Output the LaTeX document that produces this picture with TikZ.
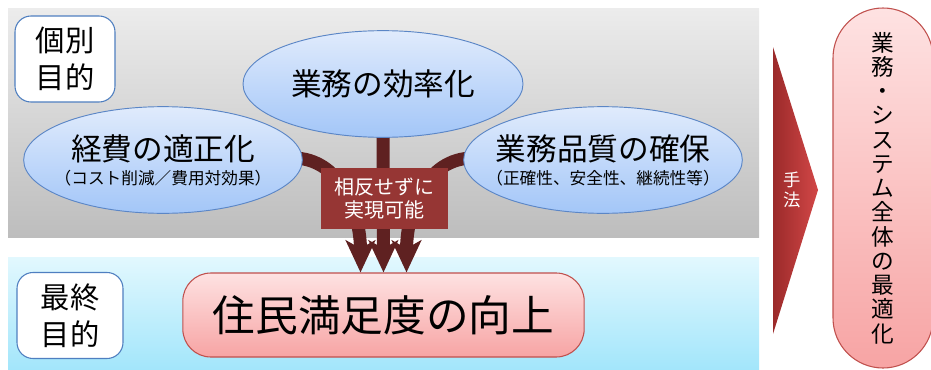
\documentclass[tikz,border=0pt]{standalone}
\usepackage{fontspec}
\setmainfont{Noto Sans CJK JP}
\usetikzlibrary{shapes.geometric, positioning, arrows.meta, calc}

\definecolor{graytop}{HTML}{ECECEC}
\definecolor{graybottom}{HTML}{BDBDBD}
\definecolor{bluetop}{HTML}{E2F8FE}
\definecolor{bluebottom}{HTML}{A3E6FB}
\definecolor{tagline}{HTML}{4F7FC0}
\definecolor{aimline}{HTML}{5B86C6}
\definecolor{aimtop}{HTML}{E0EBFC}
\definecolor{aimbottom}{HTML}{A3C6F8}
\definecolor{jointred}{HTML}{963634}
\definecolor{branchred}{HTML}{5F2121}
\definecolor{goalline}{HTML}{C0504D}
\definecolor{goaltop}{HTML}{FEE2E2}
\definecolor{goalbottom}{HTML}{F7A4A4}
\definecolor{chevleft}{HTML}{9B2A2A}
\definecolor{chevright}{HTML}{D24747}

\pgfdeclarelayer{back}
\pgfsetlayers{back,main}

% text lines that must not widen the ellipse
\newcommand{\aimline}[1]{\makebox[0pt]{#1}}
\newcommand{\subnote}[1]{\makebox[0pt]{\fontsize{12.5}{14}\selectfont #1}}

\begin{document}
\begin{tikzpicture}[
    x=0.75pt, y=0.75pt,
    % Define node styles
    tag/.style={
        rectangle,
        rounded corners=12pt,
        draw=tagline,
        line width=0.8pt,
        fill=white,
        minimum width=75pt,
        minimum height=64.5pt,
        align=center,
        font=\fontsize{22}{28}\selectfont
    },
    aim/.style={
        ellipse,
        draw=aimline,
        line width=0.7pt,
        top color=aimtop,
        bottom color=aimbottom,
        minimum width=209pt,
        minimum height=80pt,
        inner sep=0pt,
        align=center,
        font=\fontsize{23}{28}\selectfont
    },
    joint/.style={
        rectangle,
        fill=jointred,
        text=white,
        minimum width=95pt,
        minimum height=46pt,
        align=center,
        font=\fontsize{15}{17}\selectfont
    },
    goal/.style={
        rectangle,
        rounded corners=21pt,
        draw=goalline,
        line width=0.8pt,
        top color=goaltop,
        bottom color=goalbottom,
        minimum width=301pt,
        minimum height=63pt,
        font=\fontsize{32}{36}\selectfont
    },
    whole/.style={
        rectangle,
        rounded corners=37.5pt,
        draw=goalline,
        line width=0.8pt,
        top color=goaltop,
        bottom color=goalbottom,
        minimum width=75pt,
        minimum height=270pt,
        align=center,
        font=\fontsize{17}{18.2}\selectfont
    },
    branch/.style={
        draw=branchred,
        line width=9.75pt,
        -{Stealth[length=24pt, width=22pt, inset=6pt]}
    }
]
    \useasboundingbox (0,0) rectangle (931,369);

    % Background panels
    \begin{pgfonlayer}{back}
        \shade[top color=graytop, bottom color=graybottom] (8,132) rectangle (759,361);
        \shade[top color=bluetop, bottom color=bluebottom] (8,0) rectangle (759,112);
    \end{pgfonlayer}

    % Labels on the left
    \node[tag] (each) at (65,310) {個別\\目的};
    \node[tag, minimum width=79.5pt] (final) at (70,53.5) {最終\\目的};

    % Individual aims
    \node[aim, minimum width=210pt] (eff) at (383,285) {\aimline{業務の効率化}};
    \node[aim] (cost) at (163,209) {\aimline{経費の適正化}\\[-10pt]\subnote{（コスト削減／費用対効果）}};
    \node[aim] (quality) at (603,209) {\aimline{業務品質の確保}\\[-10pt]\subnote{（正確性、安全性、継続性等）}};

    % Final aim
    \node[goal] (goal) at (383.5,54) {住民満足度の向上};

    % Branches into the final aim (behind the ellipses)
    \begin{pgfonlayer}{back}
        \draw[branch] ($(eff.south)+(0,10)$) -- (goal.north);
        \draw[branch] ($(cost.east)+(-10,2)$) .. controls +(48,0) and +(0,60) .. ($(goal.north)+(-23,0)$);
        \draw[branch] ($(quality.west)+(10,2)$) .. controls +(-48,0) and +(0,60) .. ($(goal.north)+(23,0)$);
    \end{pgfonlayer}

    \node[joint] (joint) at (384.5,170.5) {相反せずに\\実現可能};

    % Method arrow
    \shade[left color=chevleft, right color=chevright] (773,322) -- (818,179) -- (773,35) -- cycle;
    \node[text=white, align=center, font=\fontsize{13}{15}\selectfont] (method) at (792,179) {手\\法};

    % Overall optimisation
    \node[whole] (whole) at (883,181) {業\\務\\・\\シ\\ス\\テ\\ム\\全\\体\\の\\最\\適\\化};
\end{tikzpicture}
\end{document}
